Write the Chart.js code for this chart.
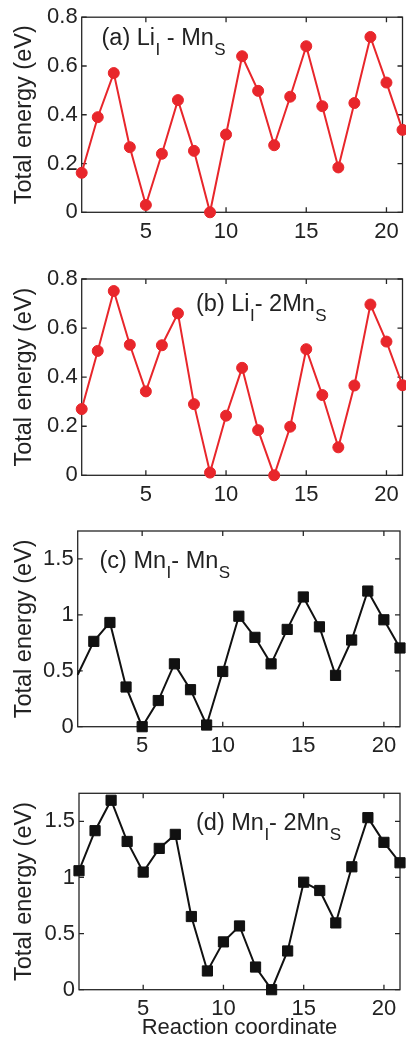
<!DOCTYPE html>
<html><head><meta charset="utf-8">
<script src="https://cdn.jsdelivr.net/npm/chart.js@4.4.1/dist/chart.umd.min.js"></script>
<style>
html,body{margin:0;padding:0;background:#fff;width:406px;height:1040px;overflow:hidden;}
.p{position:absolute;left:0;width:406px;}
canvas{display:block;}
</style></head><body>
<div class="p" style="top:0px;height:260px"><canvas id="ca" width="406" height="260"></canvas></div>
<div class="p" style="top:250px;height:260px"><canvas id="cb" width="406" height="260"></canvas></div>
<div class="p" style="top:500px;height:260px"><canvas id="cc" width="406" height="260"></canvas></div>
<div class="p" style="top:760px;height:280px"><canvas id="cd" width="406" height="280"></canvas></div>
<script>
// ---- data ----
const reactionCoord = [1,2,3,4,5,6,7,8,9,10,11,12,13,14,15,16,17,18,19,20,21];
const energyLiMn   = [0.162,0.390,0.571,0.267,0.030,0.240,0.460,0.252,0.000,0.319,0.640,0.498,0.275,0.474,0.681,0.435,0.184,0.448,0.719,0.532,0.338];
const energyLi2Mn  = [0.270,0.507,0.751,0.532,0.342,0.530,0.660,0.290,0.011,0.243,0.438,0.184,0.000,0.198,0.514,0.327,0.114,0.366,0.696,0.545,0.367];
const energyMnMn   = [0.465,0.763,0.932,0.355,0.000,0.234,0.562,0.331,0.015,0.494,0.988,0.799,0.562,0.870,1.160,0.893,0.459,0.775,1.213,0.956,0.704];
const energyMn2Mn  = [1.060,1.417,1.688,1.321,1.048,1.259,1.384,0.652,0.167,0.426,0.568,0.202,0.000,0.345,0.958,0.884,0.595,1.095,1.533,1.313,1.131];
const xTicks   = [5,10,15,20];
const yTicksLi = [0,0.2,0.4,0.6,0.8];
const yTicksMn = [0,0.5,1,1.5];
const yTitle = 'Total energy (eV)';
const xTitle = 'Reaction coordinate';

const FONT = 'Liberation Sans, Arial, Helvetica, sans-serif';
const TXT = '#222';
const RED = '#e8262b';
const BLK = '#111';

const panels = [
  {id:'ca', top:0,   h:260, L:81.7, T:16,    R:402.5, B:212.3, yMax:0.8,  yTicks:yTicksLi, vals:energyLiMn,  color:RED, style:'circle', r:5.5, hideFirst:false,
   label:{x:101.5, y:45, parts:[['(a) Li',0],['I',1],[' - Mn',0],['S',1]]}},
  {id:'cb', top:250, h:260, L:81.7, T:279,   R:402.5, B:475.3, yMax:0.8,  yTicks:yTicksLi, vals:energyLi2Mn, color:RED, style:'circle', r:5.5, hideFirst:false,
   label:{x:196, y:310.5, parts:[['(b) Li',0],['I',1],['- 2Mn',0],['S',1]]}},
  {id:'cc', top:500, h:260, L:77.7, T:531,   R:400,   B:726.7, yMax:1.75, yTicks:yTicksMn, vals:energyMnMn,  color:BLK, style:'rect', r:7.2, hideFirst:true,
   label:{x:99.5, y:568.3, parts:[['(c) Mn',0],['I',1],['- Mn',0],['S',1]]}},
  {id:'cd', top:760, h:280, L:79,   T:793.3, R:400,   B:989.7, yMax:1.75, yTicks:yTicksMn, vals:energyMn2Mn, color:BLK, style:'rect', r:7.2, hideFirst:false, xTitle:true,
   label:{x:196, y:830, parts:[['(d) Mn',0],['I',1],['- 2Mn',0],['S',1]]}}
];

const framePlugin = {
  id:'frame',
  beforeDatasetsDraw(chart) {
    const p = chart.options.plugins.frame.panel;
    const {ctx, chartArea:a, scales:{x,y}} = chart;
    ctx.save();
    ctx.strokeStyle = '#262626'; ctx.lineWidth = 1.3;
    ctx.strokeRect(a.left, a.top, a.right-a.left, a.bottom-a.top);
    const tl = 5;
    ctx.beginPath();
    x.ticks.forEach(t => { const px = x.getPixelForValue(t.value);
      ctx.moveTo(px, a.bottom); ctx.lineTo(px, a.bottom - tl);
      ctx.moveTo(px, a.top); ctx.lineTo(px, a.top + tl); });
    y.ticks.forEach(t => { const py = y.getPixelForValue(t.value);
      ctx.moveTo(a.left, py); ctx.lineTo(a.left + tl, py);
      ctx.moveTo(a.right, py); ctx.lineTo(a.right - tl, py); });
    ctx.stroke();
    // panel label
    let cx = p.label.x;
    const by = p.label.y - p.top;
    ctx.fillStyle = TXT;
    ctx.textBaseline = 'alphabetic';
    ctx.textAlign = 'left';
    p.label.parts.forEach(([t, sub]) => {
      ctx.font = (sub ? '17px ' : '23.5px ') + FONT;
      ctx.fillText(t, cx, by + (sub ? 10 : 0));
      cx += ctx.measureText(t).width + (sub ? 0 : 0.5);
    });
    ctx.restore();
  }
};

panels.forEach(p => {
  const xh = p.h - (p.B - p.top);
  new Chart(document.getElementById(p.id), {
    type:'line',
    data:{ datasets:[{
      data: reactionCoord.map((c,i) => ({x:c, y:p.vals[i]})),
      borderColor:p.color, backgroundColor:p.color, borderWidth:2,
      pointStyle:p.style,
      pointRadius: ctx => (p.hideFirst && ctx.dataIndex === 0) ? 0 : p.r,
      pointBorderWidth:1, pointBorderColor:p.color, pointBackgroundColor:p.color,
      tension:0, clip:false
    }]},
    plugins:[framePlugin],
    options:{
      responsive:false, animation:false, events:[],
      layout:{autoPadding:false, padding:{left:0, top:p.T - p.top, right:406 - p.R, bottom:0}},
      plugins:{legend:{display:false}, tooltip:{enabled:false}, frame:{panel:p}},
      scales:{
        x:{type:'linear', min:1, max:21,
          afterBuildTicks: s => { s.ticks = xTicks.map(v => ({value:v})); },
          afterFit: s => { s.height = xh; },
          grid:{display:false, drawTicks:false}, border:{display:false},
          ticks:{padding:6.5, color:TXT, font:{family:FONT, size:22}, maxRotation:0, autoSkip:false, callback: v => String(v)},
          title:{display:!!p.xTitle, text:xTitle, color:TXT, font:{family:FONT, size:22, lineHeight:1.06}, padding:0}
        },
        y:{type:'linear', min:0, max:p.yMax,
          afterBuildTicks: s => { s.ticks = p.yTicks.map(v => ({value:v})); },
          afterFit: s => { s.width = p.L; },
          grid:{display:false, drawTicks:false}, border:{display:false},
          ticks:{padding:4, color:TXT, font:{family:FONT, size:22}, autoSkip:false, callback: v => String(v)},
          title:{display:true, text:yTitle, color:TXT, font:{family:FONT, size:23.5, lineHeight:1}, padding:{top:12.5, bottom:0}}
        }
      }
    }
  });
});
</script>
</body></html>
